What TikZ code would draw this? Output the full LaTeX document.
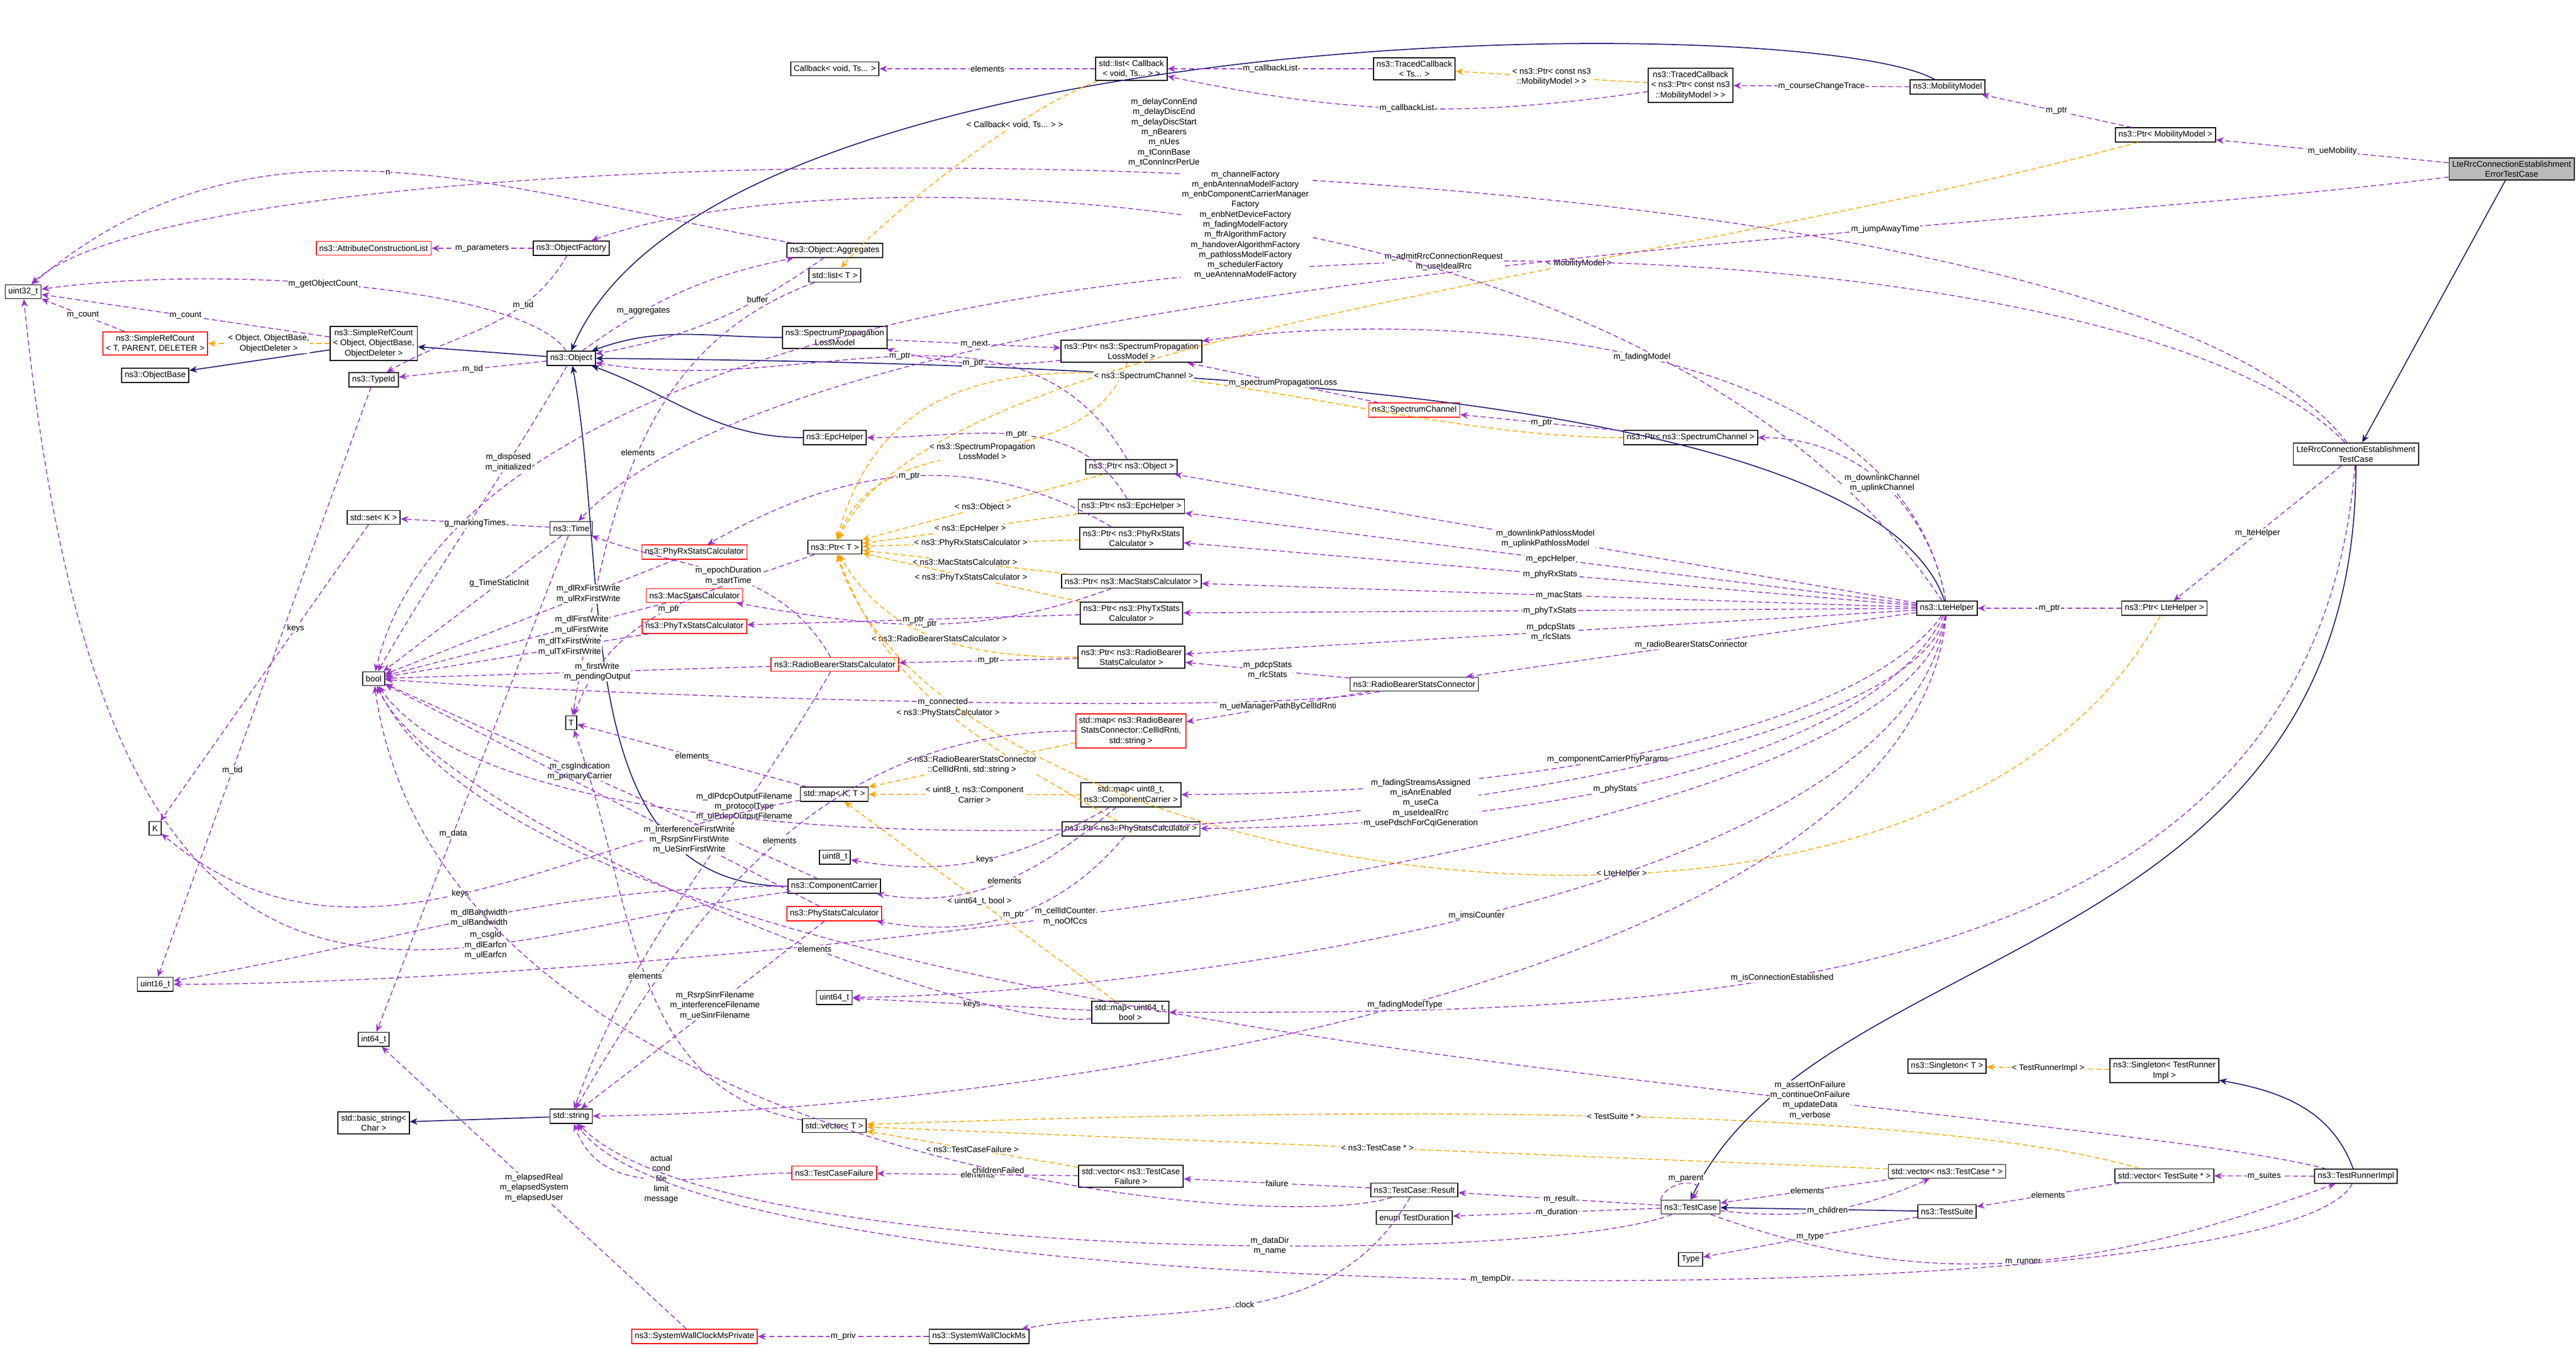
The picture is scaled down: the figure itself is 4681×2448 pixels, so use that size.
\documentclass[tikz,border=0pt]{standalone}
\usepackage{fontspec}
\setmainfont{Liberation Sans}
\usetikzlibrary{quotes,arrows.meta}
\definecolor{usecol}{HTML}{9A32CD}
\definecolor{tplcol}{HTML}{FFA500}
\definecolor{inhcol}{HTML}{191970}

\begin{document}
\begin{tikzpicture}[x=0.01cm,y=-0.01cm,
    every node/.style={font=\fontsize{4.3}{5.2}\selectfont},
    cls/.style={draw,fill=white,align=center,inner sep=1.6pt,minimum height=0.25cm,line width=0.5pt},
    miss/.style={cls,draw=red},
    main/.style={cls,fill=black!27},
    use/.style={usecol,dashed,dash pattern=on 2.6pt off 1.6pt,line width=0.45pt,-{Stealth[length=4pt,width=3.4pt]}},
    tpl/.style={tplcol,dashed,dash pattern=on 2.6pt off 1.6pt,line width=0.45pt,-{Stealth[length=4pt,width=3.4pt]}},
    inh/.style={inhcol,line width=0.5pt,-{Stealth[length=4pt,width=3.4pt]}},
    lbl/.style={black,fill=white,inner sep=0.4pt,align=center,solid},
    every edge quotes/.style={lbl}]

    \useasboundingbox (0,0) rectangle (4681,2448);

    % classes, top band
    \node[main]  (errtc) at (4564, 307)  {LteRrcConnectionEstablishment\\ErrorTestCase};
    \node[cls]   (lterrc) at (4281, 825) {LteRrcConnectionEstablishment\\TestCase};
    \node[cls]   (ptrmob) at (3935, 245) {ns3::Ptr< MobilityModel >};
    \node[cls]   (mobmodel) at (3539, 158) {ns3::MobilityModel};
    \node[cls]   (tcbmob) at (3072, 155) {ns3::TracedCallback\\< ns3::Ptr< const ns3\\::MobilityModel > >};
    \node[cls]   (tcbts) at (2570, 125)  {ns3::TracedCallback\\< Ts... >};
    \node[cls]   (listcb) at (2056, 125) {std::list< Callback\\< void, Ts... > >};
    \node[cls]   (callback) at (1517, 125) {Callback< void, Ts... >};
    \node[cls]   (uint32) at (42, 530)   {uint32\_t};
    \node[miss]  (srct) at (282, 624)    {ns3::SimpleRefCount\\< T, PARENT, DELETER >};
    \node[cls]   (objbase) at (282, 682) {ns3::ObjectBase};
    \node[cls]   (srcobj) at (679, 624)  {ns3::SimpleRefCount\\< Object, ObjectBase,\\ObjectDeleter >};
    \node[miss]  (attrlist) at (679, 451) {ns3::AttributeConstructionList};
    \node[cls]   (objfact) at (1038, 451) {ns3::ObjectFactory};
    \node[cls]   (typeid) at (679, 690)  {ns3::TypeId};
    \node[cls]   (object) at (1038, 651) {ns3::Object};
    \node[cls]   (aggr) at (1517, 455)   {ns3::Object::Aggregates};
    \node[cls]   (listt) at (1517, 500)  {std::list< T >};
    \node[cls]   (splm) at (1517, 613)   {ns3::SpectrumPropagation\\LossModel};
    \node[cls]   (ptrsplm) at (2056, 638) {ns3::Ptr< ns3::SpectrumPropagation\\LossModel >};
    \node[miss]  (specch) at (2570, 745) {ns3::SpectrumChannel};
    \node[cls]   (ptrspecch) at (3072, 795) {ns3::Ptr< ns3::SpectrumChannel >};

    % classes, middle band
    \node[cls]   (epchelper) at (1517, 795) {ns3::EpcHelper};
    \node[cls]   (ptrobj) at (2056, 848)  {ns3::Ptr< ns3::Object >};
    \node[cls]   (ptrepc) at (2056, 920)  {ns3::Ptr< ns3::EpcHelper >};
    \node[cls]   (ptrt) at (1517, 994)    {ns3::Ptr< T >};
    \node[cls]   (ptrphyrx) at (2056, 978) {ns3::Ptr< ns3::PhyRxStats\\Calculator >};
    \node[cls]   (ptrmac) at (2056, 1056) {ns3::Ptr< ns3::MacStatsCalculator >};
    \node[cls]   (ptrphytx) at (2056, 1114) {ns3::Ptr< ns3::PhyTxStats\\Calculator >};
    \node[cls]   (ptrrb) at (2056, 1194)  {ns3::Ptr< ns3::RadioBearer\\StatsCalculator >};
    \node[cls]   (rbconn) at (2570, 1243) {ns3::RadioBearerStatsConnector};
    \node[cls]   (setk) at (679, 940)     {std::set< K >};
    \node[cls]   (time) at (1038, 960)    {ns3::Time};
    \node[miss]  (phyrx) at (1262, 1003)  {ns3::PhyRxStatsCalculator};
    \node[miss]  (macstats) at (1262, 1082) {ns3::MacStatsCalculator};
    \node[miss]  (phytx) at (1262, 1138)  {ns3::PhyTxStatsCalculator};
    \node[miss]  (rbstats) at (1517, 1207) {ns3::RadioBearerStatsCalculator};
    \node[cls]   (lte) at (3538, 1105)    {ns3::LteHelper};
    \node[cls]   (ptrlte) at (3933, 1105) {ns3::Ptr< LteHelper >};
    \node[cls]   (bool) at (679, 1233)    {bool};
    \node[cls]   (t) at (1038, 1313)      {T};
    \node[miss]  (maprb) at (2055, 1328)  {std::map< ns3::RadioBearer\\StatsConnector::CellIdRnti,\\std::string >};
    \node[cls]   (mapkt) at (1516, 1443)  {std::map< K, T >};
    \node[cls]   (mapcc) at (2055, 1444)  {std::map< uint8\_t,\\ns3::ComponentCarrier >};
    \node[cls]   (ptrphys) at (2055, 1506) {ns3::Ptr< ns3::PhyStatsCalculator >};
    \node[cls]   (uint8) at (1517, 1557)  {uint8\_t};
    \node[cls]   (cc) at (1516, 1610)     {ns3::ComponentCarrier};
    \node[miss]  (phys) at (1516, 1660)   {ns3::PhyStatsCalculator};
    \node[cls]   (k) at (282, 1505)       {K};
    \node[cls]   (uint16) at (282, 1788)  {uint16\_t};

    % classes, bottom band
    \node[cls]   (uint64) at (1516, 1812) {uint64\_t};
    \node[cls]   (mapbool) at (2054, 1839) {std::map< uint64\_t,\\bool >};
    \node[cls]   (int64) at (679, 1888)   {int64\_t};
    \node[cls]   (basicstr) at (679, 2040) {std::basic\_string<\\Char >};
    \node[cls]   (string) at (1038, 2028) {std::string};
    \node[cls]   (vect) at (1516, 2045)   {std::vector< T >};
    \node[miss]  (tcfail) at (1516, 2131) {ns3::TestCaseFailure};
    \node[cls]   (vecfail) at (2055, 2137) {std::vector< ns3::TestCase\\Failure >};
    \node[cls]   (tcres) at (2570, 2162)  {ns3::TestCase::Result};
    \node[cls]   (tdur) at (2570, 2212)   {enum TestDuration};
    \node[cls]   (testcase) at (3072, 2193) {ns3::TestCase};
    \node[cls]   (type) at (3072, 2288)   {Type};
    \node[cls]   (vectc) at (3538, 2128)  {std::vector< ns3::TestCase * >};
    \node[cls]   (suite) at (3538, 2201)  {ns3::TestSuite};
    \node[cls]   (singt) at (3538, 1937)  {ns3::Singleton< T >};
    \node[cls]   (singtri) at (3933, 1945) {ns3::Singleton< TestRunner\\Impl >};
    \node[cls]   (vects) at (3933, 2136)  {std::vector< TestSuite * >};
    \node[cls]   (runner) at (4281, 2137) {ns3::TestRunnerImpl};
    \node[miss]  (wcpriv) at (1262, 2428) {ns3::SystemWallClockMsPrivate};
    \node[cls]   (wc) at (1779, 2428)     {ns3::SystemWallClockMs};

    % inheritance
    \draw (errtc) edge[inh] (lterrc);
    \draw[inh] (lterrc.south) .. controls (4281,1750) and (3300,1700) .. (testcase.north);
    \draw (suite) edge[inh] (testcase);
    \draw (runner) edge[inh, out=110, in=-10] (singtri);
    \draw (srcobj) edge[inh] (objbase);
    \draw (object) edge[inh] (srcobj);
    \draw[inh] (mobmodel) .. controls (3300,20) and (1300,20) .. (object.north);
    \draw (splm) edge[inh, out=180, in=20] (object);
    \draw (epchelper) edge[inh, out=180, in=-20] (object);
    \draw[inh] (lte) .. controls (3400,700) and (2000,660) .. (object.east);
    \draw (cc) edge[inh, out=180, in=-80] (object);
    \draw (string) edge[inh] (basicstr);

    % template instances
    \draw (tcbmob) edge["{< ns3::Ptr< const ns3\\::MobilityModel > >}", tpl] (tcbts);
    \draw[tpl] (listcb) .. controls (1850,200) and (1600,400) .. node[lbl,pos=0.3] {< Callback< void, Ts... > >} (listt);
    \draw (srcobj) edge["{< Object, ObjectBase,\\ObjectDeleter >}", tpl] (srct);
    \draw[tpl] (ptrmob) .. controls (3000,500) and (1700,600) .. node[lbl,pos=0.35] {< MobilityModel >} (ptrt);
    \draw (ptrsplm) edge["{< ns3::SpectrumPropagation\\LossModel >}", tpl, out=-110, in=70] (ptrt);
    \draw (ptrspecch) edge["{< ns3::SpectrumChannel >}", tpl, out=180, in=75] (ptrt);
    \draw (ptrobj) edge["{< ns3::Object >}", tpl] (ptrt);
    \draw (ptrepc) edge["{< ns3::EpcHelper >}", tpl] (ptrt);
    \draw (ptrphyrx) edge["{< ns3::PhyRxStatsCalculator >}", tpl] (ptrt);
    \draw (ptrmac) edge["{< ns3::MacStatsCalculator >}", tpl] (ptrt);
    \draw (ptrphytx) edge["{< ns3::PhyTxStatsCalculator >}", tpl] (ptrt);
    \draw (ptrrb) edge["{< ns3::RadioBearerStatsCalculator >}", tpl, out=180, in=-60] (ptrt);
    \draw (ptrphys) edge["{< ns3::PhyStatsCalculator >}", tpl, out=150, in=-70] (ptrt);
    \draw[tpl] (ptrlte) .. controls (3500,1900) and (1700,1600) .. node[lbl,pos=0.4] {< LteHelper >} (ptrt);
    \draw (maprb) edge["{< ns3::RadioBearerStatsConnector\\::CellIdRnti, std::string >}", tpl] (mapkt);
    \draw (mapcc) edge["{< uint8\_t, ns3::Component\\Carrier >}", tpl] (mapkt);
    \draw (mapbool) edge["{< uint64\_t, bool >}", tpl] (mapkt);
    \draw (vecfail) edge["{< ns3::TestCaseFailure >}", tpl] (vect);
    \draw (vectc) edge["{< ns3::TestCase * >}", tpl] (vect);
    \draw[tpl] (vects) .. controls (3500,2010) and (2500,2010) .. node[lbl,pos=0.5] {< TestSuite * >} (vect);
    \draw (singtri) edge["{< TestRunnerImpl >}", tpl] (singt);

    % members, top band
    \draw (errtc) edge["m\_ueMobility", use] (ptrmob);
    \draw[use] (errtc) .. controls (3600,430) and (1500,480) .. node[lbl,pos=0.3] {m\_jumpAwayTime} (time);
    \draw[use] (lterrc) .. controls (3800,200) and (400,200) .. node[lbl,pos=0.5,above=3pt] {m\_delayConnEnd\\m\_delayDiscEnd\\m\_delayDiscStart\\m\_nBearers\\m\_nUes\\m\_tConnBase\\m\_tConnIncrPerUe} (uint32);
    \draw[use] (lterrc) .. controls (3800,320) and (900,300) .. node[lbl,pos=0.45] {m\_admitRrcConnectionRequest\\m\_useIdealRrc} (bool);
    \draw (lterrc) edge["m\_lteHelper", use] (ptrlte);
    \draw[use] (lterrc) .. controls (4200,1840) and (3000,1840) .. node[lbl,pos=0.6] {m\_isConnectionEstablished} (mapbool);
    \draw (ptrmob) edge["m\_ptr", use] (mobmodel);
    \draw (mobmodel) edge["m\_courseChangeTrace", use] (tcbmob);
    \draw (tcbmob) edge["m\_callbackList", use, bend left=10] (listcb);
    \draw (tcbts) edge["m\_callbackList", use] (listcb);
    \draw (listcb) edge["elements", use] (callback);
    \draw (listt) edge["elements", use, out=200, in=80] (t);
    \draw (srcobj) edge["m\_count", use] (uint32);
    \draw (srct) edge["m\_count", use] (uint32);
    \draw[use] (object) .. controls (950,520) and (400,480) .. node[lbl,pos=0.55] {m\_getObjectCount} (uint32);
    \draw (object) edge["m\_tid", use] (typeid);
    \draw (object) edge["m\_aggregates", use, bend left=12, pos=0.3] (aggr);
    \draw (aggr) edge["buffer", use, bend left=12, pos=0.3] (object);
    \draw (object) edge["{m\_disposed\\m\_initialized}", use, out=-120, in=60, pos=0.3] (bool);
    \draw (objfact) edge["m\_parameters", use] (attrlist);
    \draw (objfact) edge["m\_tid", use, out=-120, in=30, pos=0.3] (typeid);
    \draw (aggr) edge["n", use, out=170, in=40] (uint32);
    \draw (splm) edge["m\_next", use] (ptrsplm);
    \draw (ptrsplm) edge["m\_ptr", use, bend left=10] (splm);
    \draw (specch) edge["m\_spectrumPropagationLoss", use] (ptrsplm);
    \draw (ptrspecch) edge["m\_ptr", use] (specch);
    \draw (ptrepc) edge["m\_ptr", use, out=120, in=0] (epchelper);
    \draw (ptrobj) edge["m\_ptr", use, out=120, in=-10] (object);

    % members, middle band
    \draw (ptrphyrx) edge["m\_ptr", use, out=150, in=30] (phyrx);
    \draw (ptrmac) edge["m\_ptr", use, out=200, in=-10] (macstats);
    \draw (ptrphytx) edge["m\_ptr", use] (phytx);
    \draw (ptrrb) edge["m\_ptr", use] (rbstats);
    \draw (ptrt) edge["m\_ptr", use, out=200, in=70] (t);
    \draw (typeid) edge["m\_tid", use, pos=0.65] (uint16);
    \draw (setk) edge["keys", use, pos=0.35] (k);
    \draw (time) edge["g\_markingTimes", use] (setk);
    \draw (time) edge["g\_TimeStaticInit", use, pos=0.35] (bool);
    \draw (time) edge["m\_data", use, pos=0.6] (int64);
    \draw (phyrx) edge["{m\_dlRxFirstWrite\\m\_ulRxFirstWrite}", use, pos=0.3] (bool);
    \draw (macstats) edge["{m\_dlFirstWrite\\m\_ulFirstWrite}", use, pos=0.3] (bool);
    \draw (phytx) edge["{m\_dlTxFirstWrite\\m\_ulTxFirstWrite}", use, pos=0.3] (bool);
    \draw (rbstats) edge["{m\_firstWrite\\m\_pendingOutput}", use, pos=0.45] (bool);
    \draw (rbstats) edge["{m\_epochDuration\\m\_startTime}", use, out=120, in=-20] (time);
    \draw (rbstats) edge["{m\_dlPdcpOutputFilename\\m\_protocolType\\m\_ulPdcpOutputFilename}", use, out=-120, in=70, pos=0.3] (string);
    \draw (rbconn) edge["{m\_pdcpStats\\m\_rlcStats}", use] (ptrrb);
    \draw[use] (rbconn) .. controls (2300,1300) and (1200,1270) .. node[lbl] {m\_connected} (bool);
    \draw (rbconn) edge["m\_ueManagerPathByCellIdRnti", use] (maprb);
    \draw (maprb) edge["elements", use, out=180, in=60] (string);
    \draw (mapkt) edge["elements", use] (t);
    \draw (mapkt) edge["keys", use, out=190, in=-40] (k);
    \draw (mapcc) edge["keys", use, out=-150, in=-10] (uint8);
    \draw (mapcc) edge["elements", use, out=-140, in=-10] (cc);
    \draw (ptrphys) edge["m\_ptr", use, out=-130, in=-10] (phys);
    \draw (cc) edge["{m\_csgIndication\\m\_primaryCarrier}", use, pos=0.55] (bool);
    \draw (cc) edge["{m\_dlBandwidth\\m\_ulBandwidth}", use, out=180, in=10] (uint16);
    \draw[use] (cc) .. controls (800,1700) and (200,2100) .. node[lbl,pos=0.3] {m\_csgId\\m\_dlEarfcn\\m\_ulEarfcn} (uint32);
    \draw (phys) edge["{m\_InterferenceFirstWrite\\m\_RsrpSinrFirstWrite\\m\_UeSinrFirstWrite}", use, pos=0.3] (bool);
    \draw (phys) edge["{m\_RsrpSinrFilename\\m\_interferenceFilename\\m\_ueSinrFilename}", use, pos=0.45] (string);

    % members of the lte helper
    \draw[use] (lte) .. controls (3000,300) and (1500,280) .. node[lbl,pos=0.5] {m\_channelFactory\\m\_enbAntennaModelFactory\\m\_enbComponentCarrierManager\\Factory\\m\_enbNetDeviceFactory\\m\_fadingModelFactory\\m\_ffrAlgorithmFactory\\m\_handoverAlgorithmFactory\\m\_pathlossModelFactory\\m\_schedulerFactory\\m\_ueAntennaModelFactory} (objfact);
    \draw[use] (lte) .. controls (3450,600) and (2600,560) .. node[lbl,pos=0.5] {m\_fadingModel} (ptrsplm);
    \draw (lte) edge["{m\_downlinkChannel\\m\_uplinkChannel}", use, out=100, in=0] (ptrspecch);
    \draw (lte) edge["{m\_downlinkPathlossModel\\m\_uplinkPathlossModel}", use] (ptrobj);
    \draw (lte) edge["m\_epcHelper", use] (ptrepc);
    \draw (lte) edge["m\_phyRxStats", use] (ptrphyrx);
    \draw (lte) edge["m\_macStats", use] (ptrmac);
    \draw (lte) edge["m\_phyTxStats", use] (ptrphytx);
    \draw (lte) edge["{m\_pdcpStats\\m\_rlcStats}", use] (ptrrb);
    \draw (lte) edge["m\_radioBearerStatsConnector", use] (rbconn);
    \draw[use] (lte) .. controls (3400,1300) and (2900,1440) .. node[lbl,pos=0.6] {m\_componentCarrierPhyParams} (mapcc);
    \draw[use] (lte) .. controls (3420,1350) and (2900,1500) .. node[lbl,pos=0.6] {m\_phyStats} (ptrphys);
    \draw[use] (lte) .. controls (3440,1500) and (1000,1700) .. node[lbl,pos=0.4] {m\_fadingStreamsAssigned\\m\_isAnrEnabled\\m\_useCa\\m\_useIdealRrc\\m\_usePdschForCqiGeneration} (bool);
    \draw[use] (lte) .. controls (3450,1600) and (1000,1790) .. node[lbl,pos=0.55] {m\_cellIdCounter\\m\_noOfCcs} (uint16);
    \draw[use] (lte) .. controls (3460,1650) and (2000,1810) .. node[lbl,pos=0.5] {m\_imsiCounter} (uint64);
    \draw[use] (lte) .. controls (3470,1800) and (1800,2020) .. node[lbl,pos=0.5] {m\_fadingModelType} (string);
    \draw (ptrlte) edge["m\_ptr", use] (lte);

    % members, bottom band
    \draw (mapbool) edge["keys", use] (uint64);
    \draw[use] (mapbool) .. controls (1800,1880) and (800,1500) .. node[lbl,pos=0.4] {elements} (bool);
    \draw (vect) edge["elements", use, out=170, in=-70] (t);
    \draw (tcfail) edge["{actual\\cond\\file\\limit\\message}", use, out=180, in=-70] (string);
    \draw (vecfail) edge["elements", use] (tcfail);
    \draw (tcres) edge["failure", use] (vecfail);
    \draw[use] (tcres) .. controls (2300,2250) and (800,2100) .. node[lbl,pos=0.4] {childrenFailed} (bool);
    \draw (tcres) edge["clock", use, out=-120, in=10] (wc);
    \draw (testcase) edge["m\_result", use] (tcres);
    \draw (testcase) edge["m\_duration", use] (tdur);
    \draw[use] (testcase.north west) .. controls (3030,2140) and (3110,2140) .. node[lbl,above] {m\_parent} (testcase.north);
    \draw (testcase) edge["m\_children", use, bend right=15] (vectc);
    \draw[use] (testcase) .. controls (2800,2300) and (1300,2300) .. node[lbl,pos=0.4] {m\_dataDir\\m\_name} (string);
    \draw (testcase) edge["m\_runner", use, out=-20, in=-160] (runner);
    \draw (vectc) edge["elements", use] (testcase);
    \draw (suite) edge["m\_type", use] (type);
    \draw (vects) edge["elements", use] (suite);
    \draw (runner) edge["m\_suites", use] (vects);
    \draw[use] (runner) .. controls (3700,1990) and (1000,1900) .. node[lbl,pos=0.3] {m\_assertOnFailure\\m\_continueOnFailure\\m\_updateData\\m\_verbose} (bool);
    \draw[use] (runner) .. controls (4150,2400) and (1300,2400) .. node[lbl,pos=0.5] {m\_tempDir} (string);
    \draw (wc) edge["m\_priv", use] (wcpriv);
    \draw (wcpriv) edge["{m\_elapsedReal\\m\_elapsedSystem\\m\_elapsedUser}", use] (int64);
  \end{tikzpicture}
\end{document}
